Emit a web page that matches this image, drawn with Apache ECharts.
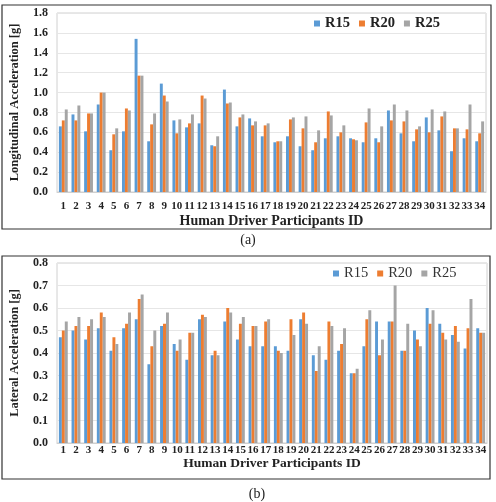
<!DOCTYPE html>
<html lang="en">
<head>
    <meta charset="UTF-8">
    <title>Driver acceleration</title>
    <style>
        body{ margin:0; background:#fff; }
        #main{ width:496px; height:502px; }
    </style>
    <script src="https://cdn.jsdelivr.net/npm/echarts@6/dist/echarts.min.js"></script>
</head>
<body>
<div id="main"></div>
<script>
// participant ids
var ids = [];
for (var i = 1; i <= 34; i++) { ids.push(String(i)); }

// (a) longitudinal acceleration [g]
var lonR15 = [0.66,0.78,0.61,0.88,0.42,0.61,1.54,0.51,1.09,0.72,0.65,0.69,0.47,1.03,0.66,0.74,0.56,0.50,0.56,0.46,0.42,0.54,0.56,0.54,0.50,0.54,0.82,0.59,0.51,0.75,0.62,0.41,0.54,0.51];
var lonR20 = [0.72,0.72,0.79,1.00,0.58,0.84,1.17,0.68,0.97,0.59,0.69,0.97,0.46,0.89,0.75,0.67,0.67,0.51,0.73,0.64,0.50,0.81,0.60,0.53,0.70,0.50,0.72,0.71,0.63,0.60,0.76,0.64,0.63,0.59];
var lonR25 = [0.83,0.87,0.79,1.00,0.64,0.82,1.17,0.79,0.91,0.73,0.78,0.94,0.56,0.90,0.78,0.71,0.69,0.51,0.75,0.76,0.62,0.77,0.67,0.52,0.84,0.66,0.88,0.82,0.66,0.83,0.81,0.64,0.88,0.71];

// (b) lateral acceleration [g]
var latR15 = [0.47,0.50,0.46,0.51,0.41,0.51,0.55,0.35,0.52,0.44,0.37,0.55,0.39,0.54,0.46,0.43,0.43,0.43,0.41,0.55,0.39,0.37,0.41,0.31,0.43,0.54,0.54,0.41,0.50,0.60,0.53,0.48,0.42,0.51];
var latR20 = [0.50,0.52,0.52,0.58,0.47,0.53,0.64,0.43,0.53,0.41,0.49,0.57,0.41,0.60,0.53,0.52,0.54,0.41,0.55,0.58,0.32,0.54,0.44,0.31,0.55,0.39,0.54,0.41,0.46,0.53,0.49,0.52,0.51,0.49];
var latR25 = [0.54,0.56,0.55,0.56,0.44,0.58,0.66,0.50,0.58,0.46,0.49,0.56,0.39,0.58,0.56,0.52,0.55,0.40,0.48,0.53,0.43,0.52,0.51,0.33,0.59,0.46,0.70,0.53,0.43,0.59,0.46,0.45,0.64,0.49];

var seriesNames = ['R15', 'R20', 'R25'];
var colors = ['#5b9bd5', '#ed7d31', '#a5a5a5'];

var serif = 'Liberation Serif';

function xAxisCfg(idx, margin, nameGap, nameSize) {
    return {
        type: 'category', gridIndex: idx, data: ids,
        axisTick: { show: false },
        axisLine: { lineStyle: { color: '#d0d0d0' } },
        axisLabel: { interval: 0, margin: margin, color: '#222', fontFamily: serif, fontWeight: 'bold', fontSize: 11 },
        name: 'Human Driver Participants ID', nameLocation: 'middle', nameGap: nameGap,
        nameTextStyle: { color: '#222', fontFamily: serif, fontWeight: 'bold', fontSize: nameSize }
    };
}

function yAxisCfg(idx, max, step, digits, name) {
    return {
        type: 'value', gridIndex: idx, min: 0, max: max, interval: step,
        axisLine: { show: false }, axisTick: { show: false },
        splitLine: { lineStyle: { color: '#e6e6e6' } },
        axisLabel: { margin: 9, color: '#222', fontFamily: serif, fontWeight: 'bold', fontSize: 12,
            formatter: function (v) { return v.toFixed(digits); } },
        name: name, nameLocation: 'middle', nameGap: 36,
        nameTextStyle: { color: '#222', fontFamily: serif, fontWeight: 'bold', fontSize: 12.5 }
    };
}

function bars(idx, arrs) {
    return arrs.map(function (d, k) {
        return {
            name: seriesNames[k], type: 'bar', xAxisIndex: idx, yAxisIndex: idx,
            data: d, barGap: '0%', barCategoryGap: '30%',
            itemStyle: { color: colors[k] }
        };
    });
}

var chart = echarts.init(document.getElementById('main'));
var option = {
    backgroundColor: '#fff',
    animation: false,
    color: colors,
    legend: [
        { data: seriesNames, left: 314, top: 16, padding: 0, itemWidth: 6, itemHeight: 6, itemGap: 9,
          icon: 'rect', textStyle: { fontFamily: serif, fontWeight: 'bold', fontSize: 14.5, color: '#222' } },
        { data: seriesNames, left: 333, top: 266, padding: 0, itemWidth: 6, itemHeight: 6, itemGap: 9,
          icon: 'rect', textStyle: { fontFamily: serif, fontSize: 14.5, color: '#333' } }
    ],
    grid: [
        { left: 49, top: 13, width: 437, height: 179, show: true, borderColor: '#d0d0d0', borderWidth: 1 },
        { left: 46, top: 263, width: 441, height: 180, show: true, borderColor: '#d0d0d0', borderWidth: 1 }
    ],
    xAxis: [xAxisCfg(0, 9, 22, 14), xAxisCfg(1, 2, 11, 13.5)],
    yAxis: [
        yAxisCfg(0, 1.8, 0.2, 1, 'Longitudinal Acceleration [g]'),
        yAxisCfg(1, 0.8, 0.1, 1, 'Lateral Acceleration [g]')
    ],
    series: bars(0, [lonR15, lonR20, lonR25]).concat(bars(1, [latR15, latR20, latR25])),
    graphic: [
        { type: 'rect', shape: { x: 2, y: 5, width: 489, height: 224 }, style: { fill: 'none', stroke: '#333', lineWidth: 1.2 }, silent: true },
        { type: 'rect', shape: { x: 2, y: 256, width: 488, height: 223 }, style: { fill: 'none', stroke: '#333', lineWidth: 1.2 }, silent: true },
        { type: 'text', x: 248, y: 240, style: { text: '(a)', font: '14px "Liberation Serif"', fill: '#222', align: 'center', verticalAlign: 'middle' } },
        { type: 'text', x: 257, y: 494, style: { text: '(b)', font: '14px "Liberation Serif"', fill: '#222', align: 'center', verticalAlign: 'middle' } }
    ]
};
chart.setOption(option);
</script>
</body>
</html>
